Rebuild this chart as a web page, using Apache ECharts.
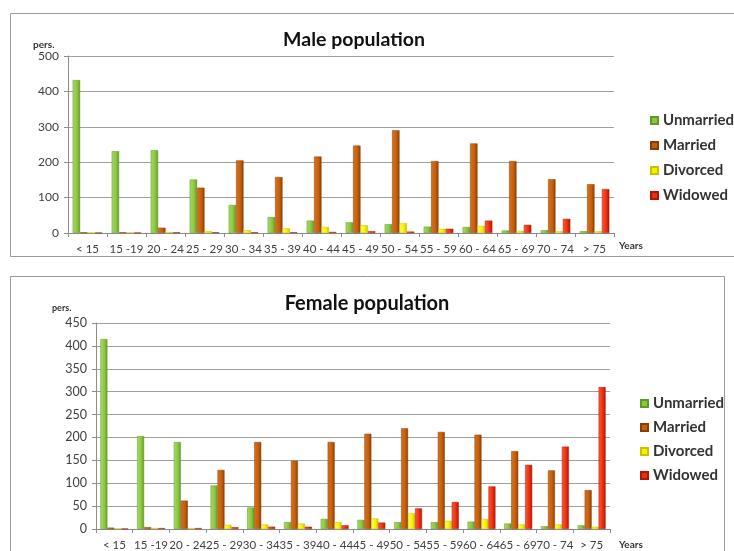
<!DOCTYPE html>
<html>
<head>
<meta charset="utf-8">
<script src="https://cdn.jsdelivr.net/npm/echarts@6/dist/echarts.min.js"></script>
<style>
html,body{margin:0;padding:0;background:#fff;}
#chart{width:734px;height:551px;}
</style>
</head>
<body>
<div id="chart"></div>
<script>
// ---- Data ----
const categories = ['< 15','15 -19','20 - 24','25 - 29','30 - 34','35 - 39','40 - 44','45 - 49','50 - 54','55 - 59','60 - 64','65 - 69','70 - 74','> 75'];
const seriesNames = ['Unmarried','Married','Divorced','Widowed'];

const maleUnmarried = [432,231,234,151,79,45,35,30,25,18,17,7,8,5];
const maleMarried   = [2,2,15,128,205,158,216,247,290,203,253,203,152,138];
const maleDivorced  = [1,1,3,5,8,13,17,22,28,12,20,6,5,5];
const maleWidowed   = [1,1,2,2,2,2,3,5,4,12,35,23,40,124];

const femaleUnmarried = [415,203,190,95,47,15,22,20,15,15,16,12,6,8];
const femaleMarried   = [3,4,62,129,190,149,190,208,220,212,206,170,128,85];
const femaleDivorced  = [1,2,2,9,10,12,15,23,34,18,22,10,10,5];
const femaleWidowed   = [1,2,2,4,5,5,8,14,45,59,93,140,180,310];

const maleTicks = [0,100,200,300,400,500];
const femaleTicks = [0,50,100,150,200,250,300,350,400,450];

// ---- Styles ----
const FONT = 'Lato, "Open Sans", sans-serif';
const colors = [
  ['#a6dc68','#8cc63f','#5f9a26'],
  ['#d9731c','#c55e0c','#8a3e05'],
  ['#ffff66','#f5f000','#c9c200'],
  ['#ff5a3a','#ee2c10','#a81a05']
];
function grad(c){
  return new echarts.graphic.LinearGradient(0,0,1,0,[
    {offset:0,color:c[0]},{offset:0.6,color:c[1]},{offset:1,color:c[2]}
  ]);
}
const maleData = [maleUnmarried, maleMarried, maleDivorced, maleWidowed];
const femaleData = [femaleUnmarried, femaleMarried, femaleDivorced, femaleWidowed];

function makeSeries(dataSets, axisIdx){
  return dataSets.map((d,i)=>({
    name: seriesNames[i],
    type: 'bar',
    xAxisIndex: axisIdx,
    yAxisIndex: axisIdx,
    data: d,
    barGap: '0%',
    barCategoryGap: '24%',
    itemStyle: {color: grad(colors[i]), borderColor: colors[i][2], borderWidth: 0.5},
    emphasis: {disabled: true}
  }));
}

function xAxisCfg(gridIdx){
  return {
    type:'category', gridIndex:gridIdx, data:categories,
    axisLine:{show:true, lineStyle:{color:'#8c8c8c'}},
    axisTick:{show:true, length:4, lineStyle:{color:'#8c8c8c'}},
    axisLabel:{interval:0, color:'#404040', fontFamily:FONT, fontSize:11.5, margin:10}
  };
}
function yAxisCfg(gridIdx, max, interval, fs){
  return {
    type:'value', gridIndex:gridIdx, min:0, max:max, interval:interval,
    axisLine:{show:true, lineStyle:{color:'#8c8c8c'}},
    axisTick:{show:true, length:4, lineStyle:{color:'#8c8c8c'}},
    axisLabel:{color:'#404040', fontFamily:FONT, fontSize:fs, margin:9},
    splitLine:{show:true, lineStyle:{color:'#a0a0a0', width:1}}
  };
}

const legendCommon = {
  orient:'vertical', icon:'rect', itemWidth:7, itemHeight:7,
  selectedMode:false,
  textStyle:{fontFamily:FONT, fontWeight:'bold', fontSize:15, color:'#333'},
  data: seriesNames.map((n,i)=>({name:n, itemStyle:{color:colors[i][1]}}))
};

const chart = echarts.init(document.getElementById('chart'), null, {renderer:'canvas'});
chart.setOption({
  backgroundColor:'#ffffff',
  animation:false,
  title:[
    {text:'Male population', left:349, top:25, textAlign:'center',
     textStyle:{fontFamily:FONT, fontWeight:'bold', fontSize:19.5, color:'#111'}},
    {text:'Female population', left:362, top:289, textAlign:'center',
     textStyle:{fontFamily:FONT, fontWeight:'bold', fontSize:20, color:'#111'}}
  ],
  legend:[
    Object.assign({left:645, top:108, itemGap:10}, legendCommon),
    Object.assign({left:635, top:391, itemGap:9}, legendCommon)
  ],
  grid:[
    {left:68, right:120, top:56, bottom:318},
    {left:96, right:124, top:323, bottom:21}
  ],
  xAxis:[xAxisCfg(0), xAxisCfg(1)],
  yAxis:[yAxisCfg(0, maleTicks[maleTicks.length-1], maleTicks[1]-maleTicks[0], 12),
         yAxisCfg(1, femaleTicks[femaleTicks.length-1], femaleTicks[1]-femaleTicks[0], 12.5)],
  series: makeSeries(maleData,0).concat(makeSeries(femaleData,1)),
  graphic:[
    {type:'rect', shape:{x:10.5, y:13.5, width:740, height:243}, style:{fill:null, stroke:'#9a9a9a', lineWidth:1}, silent:true, z:-10},
    {type:'rect', shape:{x:10.5, y:276.5, width:714, height:300}, style:{fill:null, stroke:'#9a9a9a', lineWidth:1}, silent:true, z:-10},
    {type:'text', left:33, top:40, style:{text:'pers.', font:'bold 10px '+FONT, fill:'#333'}},
    {type:'text', left:52, top:304, style:{text:'pers.', font:'bold 9px '+FONT, fill:'#333'}},
    {type:'text', left:619, top:241, style:{text:'Years', font:'bold 10px '+FONT, fill:'#333'}},
    {type:'text', left:619, top:540, style:{text:'Years', font:'bold 10px '+FONT, fill:'#333'}}
  ]
});
</script>
</body>
</html>
